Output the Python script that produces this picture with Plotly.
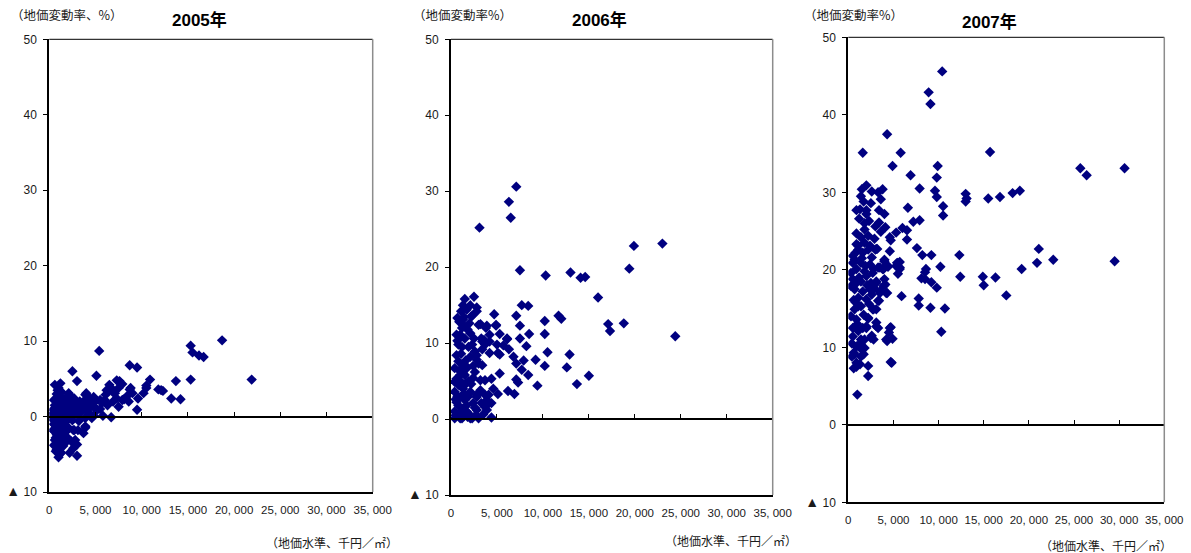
import plotly.graph_objects as go

# ---- data: land price level (千円/㎡) vs. land price change rate (%) ----
x_2005 = [300, 400, 400, 400, 500, 500, 600, 600, 600, 600, 700, 700, 700, 800, 800, 800, 800, 800,
          900, 900, 900, 1000, 1000, 1000, 1000, 1000, 1100, 1100, 1100, 1200, 1200, 1200, 1200, 1200,
          1300, 1300, 1300, 1300, 1400, 1400, 1400, 1500, 1500, 1500, 1600, 1600, 1700, 1700, 1700, 1700,
          1800, 1800, 1900, 1900, 2000, 2100, 2100, 2200, 2200, 2200, 2300, 2400, 2400, 2400, 2500, 2600,
          2600, 2600, 2700, 2800, 2800, 3000, 3000, 3000, 3000, 3100, 3100, 3300, 3500, 3700, 3700, 3900,
          3900, 3900, 3900, 4000, 4000, 4400, 4600, 4600, 4800, 4800, 4800, 5100, 5100, 5200, 5400, 5500,
          5700, 5800, 6000, 6100, 6200, 6400, 6500, 6700, 6700, 6900, 7000, 7100, 7300, 7300, 7500, 7500,
          7600, 7900, 7900, 8100, 8400, 8600, 8700, 8700, 8800, 9000, 9500, 9500, 9600, 10200, 10500,
          10500, 10900, 11800, 12100, 12300, 13200, 13700, 14200, 15300, 15300, 15500, 16200, 16700,
          18700, 21900,
          1000, 1100, 1400, 1600, 1800, 2000, 2000, 2300, 2500, 2700, 2900, 3200, 3400, 3600, 4200, 4400,
          5500, 6300, 500, 700, 1500, 1900, 900, 500, 600]
y_2005 = [0.2, 0.9, -0.4, -1.8, -1.0, 0.5, 1.5, -1.1, -3.1, -2.0, -0.2, 0.3, -2.8, 3.0, -2.4, -4.4, -1.5, 1.0,
          -0.6, -3.4, 2.2, 3.8, -3.7, -5.4, 0.6, -1.9, -5.0, 1.4, -0.8, 4.4, 2.0, 0.2, -2.5, -4.2,
          3.3, -1.3, -4.8, 0.9, -0.2, -3.0, 2.5, -2.6, 1.2, 0.3, -1.0, 1.8, 2.4, -0.4, -3.5, 0.8,
          -2.0, 1.5, -1.8, 0.4, 2.0, 3.1, 0.5, 2.6, -4.8, 1.2, 0.0, 2.6, 0.0, -3.3, 6.0, 0.9,
          -4.2, -1.8, -1.8, -3.1, 1.6, 4.7, 1.5, -3.7, -5.2, 0.7, -1.8, 2.0, 1.3, -2.2, 2.0, 2.9,
          -0.2, -1.3, -1.5, 1.8, 3.1, 2.4, 2.0, -0.2, 0.1, 1.8, 2.6, 0.9, 5.4, 0.9, 8.7, 2.2,
          1.8, 0.1, 2.2, 2.9, 3.5, 3.5, 4.2, -0.1, 3.8, 2.0, 3.1, 3.1, 2.4, 4.8, 1.3, 3.8,
          4.7, 2.2, 4.3, 2.3, 2.7, 2.0, 3.6, 6.8, 3.8, 3.1, 6.5, 0.9, 2.4, 3.1, 3.8,
          4.1, 4.9, 3.6, 3.5, 3.4, 2.4, 4.7, 2.3, 4.9, 9.4, 8.5, 8.1, 7.9,
          10.1, 4.9,
          2.7, -2.2, 1.7, 0.0, -0.7, -1.4, 0.9, 1.9, -0.5, 2.4, 0.3, -0.6, 0.5, 1.0, 0.6, 1.2,
          1.0, 1.5, -3.8, -4.6, -3.9, -2.7, 3.5, 2.2, 4.2]

x_2006 = [7100, 6300, 6500, 3100, 19900, 23000, 19400, 7500, 10300, 13000, 14100, 14600, 16000, 17100,
          17300, 18800, 24400, 7700, 8400, 7100, 7500, 7500, 8200, 8500, 10200, 10200, 10500, 11700,
          12000, 12900, 12600, 13700, 15000, 10200, 9200, 9400, 7900, 8400, 7700, 7100, 6800, 7100,
          7300, 6900, 6200, 5300, 5100, 4400, 4400, 4600, 4400, 5300, 5300, 4900, 4700, 6100, 6300,
          5700, 4200, 4200, 3900, 3800, 3200, 2800, 2500, 2100, 1500, 1700, 2800, 1400, 2300, 3400,
          3600, 3400, 2600, 3000, 3400, 2800, 3700, 3200, 3200, 2800, 3900, 4100, 3700, 3000, 2300,
          1000,
          2200, 1300, 1200, 1500, 1000, 1500, 2100, 3000, 2300, 1900, 1200, 3300, 3700, 4200, 800,
          1300, 2100, 2800, 1000, 1500, 2400, 800, 1300, 2100, 2800, 3700, 4100, 3300, 2400, 1500,
          800, 400, 400, 1200, 2100, 1700, 2800, 3900, 400, 400, 600, 800, 600, 400, 4900, 5000,
          6100, 5100,
          500, 600, 700, 900, 1000, 1100, 1100, 1200, 1300, 1400, 1600, 1600, 1700, 1800, 1800, 1900,
          2000, 2000, 2200, 2400, 2500, 2600, 900, 1100, 700, 1900, 2600, 500, 600, 1000, 1400, 1800,
          2700, 3500, 700, 1300]
y_2006 = [30.6, 28.6, 26.5, 25.2, 22.8, 23.1, 19.8, 19.6, 18.9, 19.3, 18.6, 18.7, 16.0, 12.5,
          11.6, 12.6, 10.9, 15.0, 14.9, 13.6, 12.3, 10.6, 9.6, 11.2, 12.9, 11.2, 8.8, 13.6,
          13.2, 8.5, 6.8, 4.6, 5.7, 7.0, 7.8, 4.4, 7.7, 5.8, 6.5, 7.3, 8.2, 5.2,
          4.8, 3.3, 3.7, 6.0, 3.3, 2.1, 0.2, 4.0, 5.3, 8.5, 11.2, 12.3, 13.8, 10.5, 9.2,
          9.7, 8.7, 11.1, 12.3, 12.0, 12.5, 14.7, 16.1, 15.0, 15.8, 14.4, 14.2, 13.4, 13.6, 10.2,
          10.4, 9.2, 8.9, 7.3, 7.1, 7.8, 5.1, 5.1, 3.8, 2.9, 2.5, 3.2, 1.6, 0.1, 0.1,
          0.1,
          13.5, 13.1, 12.0, 12.2, 11.1, 10.6, 11.3, 12.4, 9.8, 9.5, 9.5, 10.6, 9.8, 10.2, 7.6,
          7.1, 8.2, 8.4, 5.8, 5.8, 5.4, 4.5, 4.0, 3.6, 3.2, 3.2, 2.1, 2.1, 2.1, 2.5,
          1.8, 1.0, 0.1, 0.1, 0.1, 1.0, 1.2, 1.2, 3.6, 6.7, 8.4, 9.8, 11.1, 4.9, 12.4, 9.8,
          10.6, 8.7,
          2.6, 5.3, 3.0, 6.4, 2.9, 8.6, 4.9, 1.4, 6.2, 3.3, 7.7, 4.6, 1.8, 11.8, 6.8, 3.0,
          12.6, 0.6, 4.6, 7.0, 10.6, 1.5, 12.8, 14.2, 10.3, 5.0, 6.2, 0.5, 2.2, 0.9, 0.4, 0.3,
          0.5, 0.6, 13.3, 15.0]

x_2007 = [10400, 8900, 9100, 4300, 1600, 5800, 15700, 4900, 9900, 25700, 30600, 26400, 6900, 9800,
          2000, 7900, 9600, 9800, 2600, 3300, 3800, 3600, 1400, 1700, 13000, 13100, 13000, 15500,
          16800, 18200, 19000, 10500, 10500, 6600, 900, 1300, 2000, 3400, 4000, 7900, 7200, 3400,
          4100, 1800, 1800, 6000, 6500, 5300, 3600, 900, 2200, 1400, 4600, 4700, 6500, 7600, 8200,
          9200, 12300, 21100, 20900, 22700, 29500, 19200, 12400, 14900, 16300, 15000, 17500, 8600,
          8500, 8100, 8500, 9200, 10200, 9800, 7800, 7800, 9100, 10700, 10300, 5900, 5700, 5500,
          5400, 5300, 5700, 4600, 3200, 4000, 4400, 3900, 4000, 4100, 4300, 3500, 3400, 3100, 3100,
          3300, 4700, 4500, 4300, 4900, 4700, 2800, 2600, 2200, 2200, 1000, 600,
          1100, 2200, 3100, 700, 1400, 2400, 900, 1800, 2700, 3800, 4000, 500, 1400, 2500, 3100,
          700, 1600, 2400, 3500, 4200, 1100, 2000, 3300, 700, 1400, 2700, 900, 2200, 500, 1100,
          2000, 3100, 4600, 4200, 500, 1400, 2500, 900, 1800, 700, 1400, 900, 1300, 4800, 500,
          300, 300, 900, 300, 500, 1600, 2000, 1100, 1600, 5700, 5500, 4400, 3300,
          2600, 2800, 3500, 3100, 3900, 2600, 2800, 2200, 2000, 1800, 1500, 1700, 600, 400, 900,
          900, 1800, 2400, 3000, 1100, 2000,
          600, 1200, 1500, 2100, 2300, 1700, 800, 1000, 1300, 2900, 400, 1900, 2900, 1200, 800,
          2500, 2300, 1500, 3000]
y_2007 = [45.6, 42.9, 41.4, 37.5, 35.1, 35.1, 35.2, 33.4, 33.4, 33.1, 33.1, 32.2, 32.2, 31.9,
          30.9, 30.5, 30.2, 29.4, 30.1, 30.0, 30.4, 29.1, 29.5, 28.8, 29.8, 29.2, 28.8, 29.2,
          29.4, 29.9, 30.2, 28.2, 27.0, 28.0, 27.7, 27.8, 27.7, 27.7, 27.2, 26.4, 26.2, 26.1,
          25.5, 26.0, 25.2, 25.4, 25.1, 24.8, 24.9, 24.7, 24.4, 24.2, 24.2, 23.8, 23.9, 22.8, 21.9,
          21.9, 21.9, 22.7, 20.9, 21.3, 21.1, 20.1, 19.1, 19.1, 19.0, 18.0, 16.7, 20.1,
          19.7, 18.9, 18.8, 18.4, 20.4, 17.7, 16.3, 15.4, 15.1, 15.0, 12.0, 16.6, 20.1, 19.5,
          20.9, 20.5, 21.0, 22.4, 22.7, 21.3, 20.4, 20.1, 18.8, 18.1, 17.0, 17.0, 16.0, 14.9, 13.2,
          12.5, 12.6, 11.9, 10.8, 11.1, 8.1, 11.0, 11.5, 7.6, 6.3, 3.9, 7.3,
          23.1, 22.6, 22.7, 21.3, 20.9, 20.7, 20.1, 19.8, 19.6, 20.1, 21.1, 18.8, 18.5, 18.3, 18.5,
          17.5, 17.2, 17.5, 17.2, 17.0, 16.4, 16.2, 16.0, 14.9, 15.3, 14.9, 13.6, 13.7, 12.5, 12.1,
          12.5, 12.7, 12.5, 11.0, 11.4, 11.0, 11.2, 10.1, 9.9, 9.1, 8.8, 7.5, 7.8, 8.0, 20.9,
          19.6, 17.9, 18.3, 14.0, 21.8, 22.2, 19.2, 15.3, 12.5, 20.3, 20.9, 20.5, 20.3,
          21.6, 20.1, 20.3, 18.3, 17.9, 16.8, 14.9, 13.8, 12.7, 11.0, 9.7, 9.1, 9.3, 8.8, 8.0,
          23.3, 23.5, 23.1, 22.6, 22.6, 27.2,
          16.1, 19.0, 21.5, 18.0, 15.6, 14.2, 15.8, 13.0, 10.5, 17.6, 10.5, 20.5, 24.0, 26.6, 22.2,
          28.6, 26.3, 30.4, 25.6]

years = ["2005年", "2006年", "2007年"]
xs = [x_2005, x_2006, x_2007]
ys = [y_2005, y_2006, y_2007]

y_tickvals = [-10, 0, 10, 20, 30, 40, 50]
y_ticktext = ['<span style="font-size:14px">▲</span> 10', "0", "10", "20", "30", "40", "50"]
x_tickvals = [0, 5000, 10000, 15000, 20000, 25000, 30000, 35000]
x_ticktext = ["0", "5, 000", "10, 000", "15, 000", "20, 000", "25, 000", "30, 000", "35, 000"]
y_titles = ["（地価変動率、%）", "（地価変動率%）", "（地価変動率%）"]
x_title = "（地価水準、千円／㎡）"

# ---- layout geometry (pixels in a 1191 x 553 canvas) ----
W, H = 1191, 553
plot_px = [  # left, right, top, bottom of each plot area
    (49.3, 372.7, 39.3, 492.0),
    (451.0, 772.7, 39.3, 495.0),
    (848.3, 1164.3, 37.3, 502.3),
]
title_px = [(199, 20), (599, 20), (989, 22)]
ytitle_px = [(67, 15), (462, 15), (853, 15)]
xtitle_px = [(332, 542), (731, 540), (1106, 545)]

YMIN, YMAX = -10, 50
XMIN, XMAX = 0, 35000

def fx(px):
    return px / W

def fy(py):
    return 1 - py / H

TICK_FONT = dict(family="Liberation Sans, Arial, sans-serif", size=11.5, color="#1a1a1a")
YTICK_FONT = dict(family="Liberation Sans, Arial, sans-serif", size=12, color="#1a1a1a")
JP_FONT = "Noto Sans CJK JP, sans-serif"

fig = go.Figure()
layout = dict(
    template="none",
    width=W, height=H, autosize=False,
    margin=dict(l=0, r=0, t=0, b=0, pad=0, autoexpand=False),
    paper_bgcolor="white", plot_bgcolor="white",
    showlegend=False,
)
annotations = []
shapes = []

for i in range(3):
    n = i + 1
    xa = "x" if n == 1 else f"x{n}"
    ya = "y" if n == 1 else f"y{n}"
    za = f"x{n + 3}"
    l, r, t, b = plot_px[i]
    xdom = [fx(l), fx(r)]
    ydom = [fy(b), fy(t)]

    fig.add_trace(go.Scatter(
        x=xs[i], y=ys[i], mode="markers", xaxis=xa, yaxis=ya,
        marker=dict(symbol="diamond", size=8, color="#000080",
                    line=dict(width=0)),
        hoverinfo="x+y",
    ))
    # empty trace that keeps the zero-level axis alive
    fig.add_trace(go.Scatter(x=[], y=[], xaxis=za, yaxis=ya, hoverinfo="skip"))

    layout["xaxis" if n == 1 else f"xaxis{n}"] = dict(
        domain=xdom, anchor=ya, range=[XMIN, XMAX], fixedrange=True, automargin=False,
        showgrid=False, zeroline=False,
        showline=True, linecolor="black", linewidth=2,
        ticks="", tickvals=x_tickvals, ticktext=x_ticktext,
        tickfont=TICK_FONT, ticklabelstandoff=6,
    )
    layout["yaxis" if n == 1 else f"yaxis{n}"] = dict(
        domain=ydom, anchor=xa, range=[YMIN, YMAX], fixedrange=True, automargin=False,
        showgrid=False, zeroline=False,
        showline=True, linecolor="black", linewidth=2,
        ticks="outside", ticklen=4, tickwidth=1, tickcolor="black",
        tickvals=y_tickvals, ticktext=y_ticktext,
        tickfont=YTICK_FONT, ticklabelstandoff=4,
    )
    # horizontal axis drawn through the zero level, tick marks pointing up
    zero_pos = ydom[0] + (0 - YMIN) / (YMAX - YMIN) * (ydom[1] - ydom[0])
    layout[f"xaxis{n + 3}"] = dict(
        overlaying=xa, anchor="free", position=zero_pos, side="bottom",
        range=[XMIN, XMAX], fixedrange=True, automargin=False,
        showgrid=False, zeroline=False,
        showline=True, linecolor="black", linewidth=1.5,
        ticks="inside", ticklen=4, tickwidth=1, tickcolor="black",
        tickvals=x_tickvals, showticklabels=False,
    )

    # top and right frame edges
    shapes.append(dict(type="line", xref=f"{xa} domain", yref=f"{ya} domain",
                       x0=0, x1=1, y0=1, y1=1, line=dict(color="black", width=1)))
    shapes.append(dict(type="line", xref=f"{xa} domain", yref=f"{ya} domain",
                       x0=1, x1=1, y0=0, y1=1, line=dict(color="#8c8c8c", width=1.5)))

    tx, ty = title_px[i]
    annotations.append(dict(text=f"<b>{years[i]}</b>", x=fx(tx), y=fy(ty), xref="paper", yref="paper",
                            xanchor="center", yanchor="middle", showarrow=False,
                            font=dict(family="Liberation Sans, " + JP_FONT, size=17, color="black")))
    ax_, ay_ = ytitle_px[i]
    annotations.append(dict(text=y_titles[i], x=fx(ax_), y=fy(ay_), xref="paper", yref="paper",
                            xanchor="center", yanchor="middle", showarrow=False,
                            font=dict(family=JP_FONT, size=12.5, color="#1a1a1a")))
    bx, by = xtitle_px[i]
    annotations.append(dict(text=x_title, x=fx(bx), y=fy(by), xref="paper", yref="paper",
                            xanchor="center", yanchor="middle", showarrow=False,
                            font=dict(family=JP_FONT, size=12, color="#1a1a1a")))

layout["annotations"] = annotations
layout["shapes"] = shapes
fig.update_layout(**layout)

fig.write_html("out.html")
